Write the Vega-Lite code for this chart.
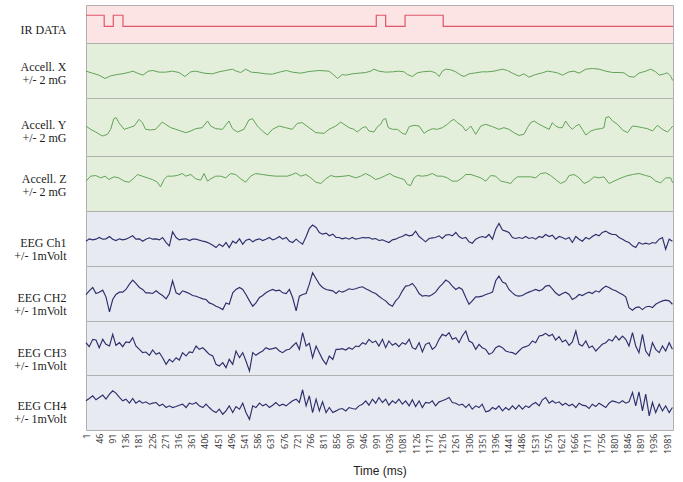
{
"$schema": "https://vega.github.io/schema/vega-lite/v6.json",
"padding": {"left": 13, "top": 4, "right": 0, "bottom": 0},
"background": "white",
"spacing": 0,
"bounds": "flush",
"config": {
  "view": {"stroke": "#b0b0b0", "strokeWidth": 1},
  "axis": {"titleFont": "Liberation Serif", "titleFontSize": 12, "titleFontWeight": "normal", "titleColor": "#222222", "titleLineHeight": 13}
},
"datasets": {
"ir": [{"t":1,"v":1},{"t":63,"v":0},{"t":94,"v":1},{"t":127,"v":0},{"t":990,"v":1},{"t":1022,"v":0},{"t":1088,"v":1},{"t":1218,"v":0},{"t":2001,"v":0}],
"ax": [{"t":1,"v":-2},{"t":23,"v":-8},{"t":45,"v":-14},{"t":66,"v":-24},{"t":85,"v":-16},{"t":108,"v":-12},{"t":131,"v":-9},{"t":153,"v":-4},{"t":161,"v":-2},{"t":176,"v":-8},{"t":195,"v":-14},{"t":213,"v":-2},{"t":229,"v":0},{"t":250,"v":-5},{"t":272,"v":-5},{"t":295,"v":-2},{"t":318,"v":-6},{"t":338,"v":-18},{"t":358,"v":-4},{"t":375,"v":-2},{"t":403,"v":-8},{"t":432,"v":-10},{"t":454,"v":-4},{"t":477,"v":0},{"t":500,"v":4},{"t":513,"v":-2},{"t":528,"v":-6},{"t":545,"v":4},{"t":564,"v":-5},{"t":591,"v":-7},{"t":613,"v":-10},{"t":636,"v":-11},{"t":664,"v":-4},{"t":684,"v":0},{"t":704,"v":-5},{"t":733,"v":-8},{"t":761,"v":-3},{"t":795,"v":0},{"t":829,"v":-2},{"t":846,"v":-14},{"t":858,"v":-24},{"t":874,"v":-12},{"t":886,"v":-14},{"t":908,"v":-10},{"t":931,"v":-8},{"t":954,"v":-6},{"t":971,"v":-2},{"t":982,"v":4},{"t":999,"v":-2},{"t":1022,"v":-5},{"t":1045,"v":-4},{"t":1067,"v":-2},{"t":1085,"v":-4},{"t":1096,"v":-12},{"t":1113,"v":-18},{"t":1130,"v":-7},{"t":1147,"v":-4},{"t":1175,"v":-2},{"t":1192,"v":-7},{"t":1204,"v":-18},{"t":1215,"v":-2},{"t":1227,"v":4},{"t":1244,"v":2},{"t":1261,"v":-4},{"t":1278,"v":-14},{"t":1289,"v":-18},{"t":1306,"v":-10},{"t":1329,"v":-7},{"t":1351,"v":-4},{"t":1369,"v":-4},{"t":1391,"v":-2},{"t":1420,"v":4},{"t":1437,"v":0},{"t":1454,"v":-8},{"t":1476,"v":-17},{"t":1493,"v":-10},{"t":1510,"v":-20},{"t":1533,"v":-12},{"t":1556,"v":-7},{"t":1573,"v":-2},{"t":1590,"v":-4},{"t":1607,"v":-7},{"t":1624,"v":-14},{"t":1647,"v":-4},{"t":1664,"v":-2},{"t":1681,"v":-8},{"t":1704,"v":4},{"t":1726,"v":6},{"t":1749,"v":4},{"t":1772,"v":-2},{"t":1795,"v":-6},{"t":1817,"v":-6},{"t":1834,"v":-7},{"t":1851,"v":-18},{"t":1868,"v":-20},{"t":1885,"v":-8},{"t":1908,"v":-2},{"t":1925,"v":4},{"t":1942,"v":-4},{"t":1954,"v":-14},{"t":1971,"v":-10},{"t":1982,"v":-7},{"t":1993,"v":-17},{"t":2000,"v":-30}],
"ay": [{"t":1,"v":3},{"t":17,"v":-7},{"t":34,"v":-15},{"t":57,"v":-27},{"t":74,"v":-22},{"t":85,"v":-7},{"t":96,"v":25},{"t":104,"v":28},{"t":113,"v":13},{"t":131,"v":-7},{"t":148,"v":-2},{"t":165,"v":3},{"t":182,"v":23},{"t":193,"v":13},{"t":204,"v":-7},{"t":221,"v":-9},{"t":238,"v":-7},{"t":261,"v":15},{"t":272,"v":8},{"t":290,"v":-2},{"t":307,"v":-7},{"t":324,"v":-12},{"t":341,"v":-17},{"t":358,"v":-12},{"t":375,"v":-5},{"t":397,"v":-2},{"t":415,"v":18},{"t":426,"v":3},{"t":443,"v":-5},{"t":466,"v":-7},{"t":488,"v":18},{"t":500,"v":-5},{"t":517,"v":-15},{"t":539,"v":-7},{"t":556,"v":21},{"t":568,"v":25},{"t":585,"v":3},{"t":602,"v":-12},{"t":619,"v":-24},{"t":636,"v":-7},{"t":659,"v":3},{"t":681,"v":-2},{"t":704,"v":-7},{"t":721,"v":11},{"t":738,"v":13},{"t":761,"v":-2},{"t":784,"v":-17},{"t":812,"v":-19},{"t":829,"v":-7},{"t":852,"v":3},{"t":869,"v":15},{"t":880,"v":8},{"t":897,"v":-2},{"t":914,"v":-7},{"t":925,"v":-15},{"t":943,"v":-2},{"t":954,"v":1},{"t":965,"v":-12},{"t":982,"v":-15},{"t":994,"v":1},{"t":1005,"v":8},{"t":1014,"v":23},{"t":1022,"v":25},{"t":1031,"v":-2},{"t":1045,"v":-7},{"t":1062,"v":-7},{"t":1079,"v":-19},{"t":1090,"v":-22},{"t":1102,"v":1},{"t":1119,"v":5},{"t":1136,"v":3},{"t":1153,"v":-19},{"t":1164,"v":-12},{"t":1181,"v":-5},{"t":1198,"v":-7},{"t":1215,"v":-2},{"t":1232,"v":8},{"t":1244,"v":18},{"t":1255,"v":23},{"t":1266,"v":13},{"t":1283,"v":3},{"t":1295,"v":-12},{"t":1312,"v":3},{"t":1329,"v":-22},{"t":1346,"v":3},{"t":1363,"v":8},{"t":1386,"v":1},{"t":1408,"v":-7},{"t":1425,"v":-2},{"t":1442,"v":-7},{"t":1459,"v":-17},{"t":1476,"v":-25},{"t":1493,"v":-22},{"t":1505,"v":-2},{"t":1516,"v":13},{"t":1528,"v":18},{"t":1539,"v":11},{"t":1556,"v":3},{"t":1579,"v":-7},{"t":1590,"v":13},{"t":1601,"v":3},{"t":1613,"v":-2},{"t":1624,"v":-2},{"t":1635,"v":18},{"t":1647,"v":3},{"t":1658,"v":-7},{"t":1670,"v":3},{"t":1681,"v":8},{"t":1692,"v":-7},{"t":1704,"v":-24},{"t":1721,"v":-12},{"t":1738,"v":-7},{"t":1755,"v":-5},{"t":1766,"v":-2},{"t":1772,"v":28},{"t":1783,"v":31},{"t":1795,"v":18},{"t":1812,"v":8},{"t":1829,"v":-9},{"t":1846,"v":-17},{"t":1863,"v":3},{"t":1880,"v":1},{"t":1897,"v":-2},{"t":1914,"v":-5},{"t":1931,"v":-12},{"t":1948,"v":5},{"t":1965,"v":-7},{"t":1982,"v":-15},{"t":1993,"v":-5},{"t":2000,"v":3}],
"az": [{"t":1,"v":7},{"t":17,"v":22},{"t":34,"v":24},{"t":51,"v":17},{"t":66,"v":22},{"t":79,"v":12},{"t":96,"v":20},{"t":113,"v":17},{"t":131,"v":7},{"t":148,"v":4},{"t":165,"v":17},{"t":176,"v":27},{"t":193,"v":22},{"t":210,"v":17},{"t":227,"v":12},{"t":244,"v":4},{"t":255,"v":-10},{"t":267,"v":12},{"t":278,"v":22},{"t":295,"v":22},{"t":312,"v":24},{"t":329,"v":30},{"t":341,"v":22},{"t":358,"v":27},{"t":375,"v":14},{"t":392,"v":10},{"t":403,"v":30},{"t":415,"v":7},{"t":426,"v":14},{"t":443,"v":22},{"t":460,"v":22},{"t":477,"v":17},{"t":494,"v":30},{"t":511,"v":27},{"t":528,"v":14},{"t":545,"v":4},{"t":562,"v":22},{"t":579,"v":30},{"t":602,"v":27},{"t":625,"v":24},{"t":647,"v":22},{"t":670,"v":22},{"t":687,"v":22},{"t":704,"v":27},{"t":716,"v":32},{"t":733,"v":22},{"t":750,"v":27},{"t":767,"v":17},{"t":784,"v":4},{"t":801,"v":0},{"t":818,"v":14},{"t":835,"v":24},{"t":852,"v":20},{"t":880,"v":22},{"t":897,"v":24},{"t":920,"v":17},{"t":937,"v":22},{"t":954,"v":30},{"t":971,"v":22},{"t":988,"v":12},{"t":1005,"v":17},{"t":1022,"v":24},{"t":1036,"v":30},{"t":1050,"v":22},{"t":1067,"v":17},{"t":1085,"v":12},{"t":1096,"v":-3},{"t":1107,"v":-6},{"t":1119,"v":17},{"t":1130,"v":24},{"t":1147,"v":22},{"t":1164,"v":24},{"t":1181,"v":30},{"t":1198,"v":22},{"t":1215,"v":22},{"t":1232,"v":17},{"t":1249,"v":7},{"t":1266,"v":7},{"t":1283,"v":17},{"t":1295,"v":27},{"t":1312,"v":27},{"t":1329,"v":22},{"t":1346,"v":17},{"t":1363,"v":7},{"t":1380,"v":24},{"t":1397,"v":22},{"t":1414,"v":7},{"t":1431,"v":4},{"t":1448,"v":0},{"t":1459,"v":12},{"t":1471,"v":20},{"t":1493,"v":20},{"t":1516,"v":20},{"t":1533,"v":17},{"t":1550,"v":30},{"t":1567,"v":32},{"t":1584,"v":24},{"t":1601,"v":12},{"t":1618,"v":0},{"t":1635,"v":7},{"t":1647,"v":24},{"t":1664,"v":27},{"t":1681,"v":17},{"t":1698,"v":0},{"t":1715,"v":7},{"t":1732,"v":20},{"t":1749,"v":17},{"t":1766,"v":20},{"t":1783,"v":0},{"t":1800,"v":7},{"t":1817,"v":14},{"t":1840,"v":22},{"t":1863,"v":27},{"t":1885,"v":30},{"t":1908,"v":24},{"t":1925,"v":20},{"t":1942,"v":7},{"t":1959,"v":2},{"t":1976,"v":17},{"t":1993,"v":17},{"t":2000,"v":2}],
"eeg": [
{"t":1,"a":-8,"b":-3,"c":16,"d":5},{"t":12,"a":-1,"b":8,"c":4,"d":12},{"t":24,"a":-4,"b":18,"c":26,"d":20},{"t":35,"a":-2,"b":0,"c":24,"d":8},{"t":46,"a":3,"b":4,"c":1,"d":15},{"t":58,"a":-2,"b":10,"c":26,"d":22},{"t":69,"a":-1,"b":-10,"c":11,"d":10},{"t":81,"a":6,"b":-55,"c":6,"d":25},{"t":92,"a":-2,"b":-18,"c":41,"d":35},{"t":103,"a":-6,"b":-3,"c":8,"d":28},{"t":115,"a":-1,"b":4,"c":16,"d":15},{"t":126,"a":-4,"b":4,"c":4,"d":5},{"t":137,"a":-2,"b":12,"c":18,"d":10},{"t":149,"a":3,"b":28,"c":16,"d":-2},{"t":160,"a":8,"b":40,"c":31,"d":12},{"t":171,"a":-2,"b":30,"c":6,"d":-2},{"t":183,"a":-1,"b":18,"c":-4,"d":5},{"t":194,"a":-8,"b":12,"c":-14,"d":-2},{"t":205,"a":-2,"b":2,"c":-12,"d":2},{"t":217,"a":2,"b":2,"c":-22,"d":-5},{"t":228,"a":-2,"b":0,"c":-6,"d":-2},{"t":240,"a":-1,"b":8,"c":-19,"d":0},{"t":251,"a":-4,"b":0,"c":-14,"d":-10},{"t":262,"a":3,"b":-6,"c":-29,"d":-5},{"t":274,"a":-12,"b":-16,"c":-49,"d":-15},{"t":285,"a":-22,"b":0,"c":-34,"d":-10},{"t":296,"a":20,"b":38,"c":-42,"d":-15},{"t":308,"a":3,"b":2,"c":-29,"d":-12},{"t":319,"a":-4,"b":-3,"c":-36,"d":-8},{"t":330,"a":-2,"b":8,"c":-14,"d":-5},{"t":342,"a":-1,"b":4,"c":-24,"d":-15},{"t":353,"a":-6,"b":0,"c":-12,"d":-2},{"t":364,"a":-2,"b":-6,"c":-14,"d":-5},{"t":376,"a":-2,"b":-8,"c":6,"d":0},{"t":387,"a":-5,"b":-12,"c":-4,"d":-10},{"t":399,"a":-8,"b":-16,"c":1,"d":-15},{"t":410,"a":-10,"b":-18,"c":-9,"d":-5},{"t":421,"a":-14,"b":-28,"c":-19,"d":-15},{"t":433,"a":-20,"b":-32,"c":-24,"d":-25},{"t":444,"a":-27,"b":-38,"c":-49,"d":-30},{"t":455,"a":-17,"b":-42,"c":-54,"d":-20},{"t":467,"a":-24,"b":-48,"c":-44,"d":-35},{"t":478,"a":-12,"b":-28,"c":-59,"d":-25},{"t":489,"a":-27,"b":-32,"c":-34,"d":-10},{"t":501,"a":-8,"b":2,"c":-49,"d":-30},{"t":512,"a":-14,"b":12,"c":-9,"d":-12},{"t":524,"a":-1,"b":18,"c":-29,"d":-20},{"t":535,"a":-17,"b":12,"c":-14,"d":-2},{"t":546,"a":-5,"b":-3,"c":-39,"d":-30},{"t":558,"a":-2,"b":-22,"c":-69,"d":-50},{"t":569,"a":-10,"b":-38,"c":-14,"d":-10},{"t":580,"a":-4,"b":-28,"c":-22,"d":-15},{"t":592,"a":-1,"b":-12,"c":-14,"d":-2},{"t":603,"a":-6,"b":-6,"c":-9,"d":-10},{"t":614,"a":-2,"b":2,"c":1,"d":-5},{"t":626,"a":3,"b":8,"c":-4,"d":-15},{"t":637,"a":-4,"b":12,"c":-2,"d":-8},{"t":648,"a":-1,"b":8,"c":1,"d":0},{"t":660,"a":6,"b":10,"c":-9,"d":-10},{"t":671,"a":-2,"b":2,"c":-14,"d":-5},{"t":683,"a":3,"b":0,"c":-6,"d":-10},{"t":694,"a":-8,"b":12,"c":-4,"d":-2},{"t":705,"a":-12,"b":-12,"c":6,"d":5},{"t":717,"a":-2,"b":-52,"c":16,"d":10},{"t":728,"a":-10,"b":-8,"c":-4,"d":0},{"t":739,"a":-17,"b":-3,"c":46,"d":38},{"t":751,"a":6,"b":0,"c":6,"d":-10},{"t":762,"a":30,"b":28,"c":14,"d":20},{"t":773,"a":40,"b":62,"c":-29,"d":-30},{"t":785,"a":33,"b":44,"c":6,"d":10},{"t":796,"a":18,"b":28,"c":-14,"d":-25},{"t":807,"a":13,"b":18,"c":-34,"d":2},{"t":819,"a":16,"b":12,"c":-49,"d":-30},{"t":830,"a":8,"b":10,"c":-24,"d":-15},{"t":842,"a":13,"b":8,"c":-34,"d":-30},{"t":853,"a":3,"b":0,"c":-4,"d":-25},
{"t":863,"a":3,"b":8,"c":-4,"d":-20},{"t":874,"a":-1,"b":4,"c":-2,"d":-18},{"t":886,"a":2,"b":8,"c":-6,"d":-25},{"t":897,"a":-2,"b":14,"c":1,"d":-15},{"t":908,"a":3,"b":12,"c":-4,"d":-18},{"t":920,"a":-2,"b":14,"c":6,"d":-20},{"t":931,"a":0,"b":18,"c":4,"d":-10},{"t":943,"a":3,"b":20,"c":16,"d":-5},{"t":954,"a":2,"b":14,"c":11,"d":5},{"t":965,"a":3,"b":10,"c":26,"d":-8},{"t":977,"a":-2,"b":4,"c":16,"d":10},{"t":988,"a":0,"b":0,"c":21,"d":-2},{"t":999,"a":-6,"b":-8,"c":6,"d":15},{"t":1011,"a":-4,"b":-16,"c":26,"d":0},{"t":1022,"a":-8,"b":-22,"c":1,"d":10},{"t":1033,"a":-12,"b":-32,"c":21,"d":-8},{"t":1045,"a":-4,"b":-38,"c":8,"d":5},{"t":1056,"a":-2,"b":-22,"c":14,"d":-2},{"t":1067,"a":3,"b":-12,"c":4,"d":10},{"t":1079,"a":6,"b":8,"c":16,"d":-5},{"t":1090,"a":12,"b":22,"c":11,"d":5},{"t":1102,"a":8,"b":24,"c":26,"d":-10},{"t":1113,"a":10,"b":30,"c":1,"d":8},{"t":1124,"a":22,"b":18,"c":-4,"d":-12},{"t":1136,"a":6,"b":0,"c":16,"d":5},{"t":1147,"a":-2,"b":-8,"c":-12,"d":-15},{"t":1158,"a":-10,"b":-6,"c":11,"d":0},{"t":1170,"a":0,"b":-8,"c":16,"d":-2},{"t":1181,"a":2,"b":-3,"c":-4,"d":5},{"t":1192,"a":3,"b":4,"c":4,"d":-10},{"t":1204,"a":8,"b":18,"c":26,"d":2},{"t":1215,"a":0,"b":28,"c":41,"d":5},{"t":1227,"a":10,"b":40,"c":36,"d":10},{"t":1238,"a":12,"b":34,"c":46,"d":15},{"t":1249,"a":8,"b":22,"c":26,"d":0},{"t":1261,"a":18,"b":12,"c":31,"d":-2},{"t":1272,"a":6,"b":18,"c":16,"d":-8},{"t":1283,"a":0,"b":12,"c":36,"d":-5},{"t":1295,"a":3,"b":-12,"c":51,"d":-15},{"t":1306,"a":-10,"b":-32,"c":21,"d":-5},{"t":1317,"a":-14,"b":-22,"c":16,"d":-20},{"t":1329,"a":-2,"b":-10,"c":-4,"d":-10},{"t":1340,"a":3,"b":-10,"c":11,"d":-15},{"t":1351,"a":6,"b":-8,"c":1,"d":-5},{"t":1363,"a":3,"b":-3,"c":-4,"d":-28},{"t":1374,"a":12,"b":0,"c":-19,"d":-25},{"t":1386,"a":-2,"b":4,"c":-14,"d":-15},{"t":1397,"a":28,"b":38,"c":1,"d":-20},{"t":1408,"a":45,"b":52,"c":6,"d":-10},{"t":1420,"a":25,"b":34,"c":1,"d":-25},{"t":1431,"a":22,"b":30,"c":-9,"d":-15},{"t":1442,"a":18,"b":12,"c":-12,"d":-22},{"t":1454,"a":3,"b":2,"c":-14,"d":-10},{"t":1465,"a":0,"b":-6,"c":-19,"d":-20},{"t":1476,"a":3,"b":-8,"c":-9,"d":-8},{"t":1488,"a":0,"b":-6,"c":1,"d":-20},{"t":1499,"a":6,"b":0,"c":4,"d":-10},{"t":1510,"a":0,"b":4,"c":8,"d":-15},{"t":1522,"a":3,"b":8,"c":21,"d":-5},{"t":1533,"a":-2,"b":12,"c":16,"d":0},{"t":1545,"a":6,"b":8,"c":36,"d":-10},{"t":1556,"a":3,"b":12,"c":38,"d":8},{"t":1567,"a":12,"b":22,"c":44,"d":15},{"t":1579,"a":6,"b":24,"c":36,"d":-2},{"t":1590,"a":10,"b":14,"c":41,"d":5},{"t":1601,"a":-2,"b":2,"c":24,"d":-2},{"t":1613,"a":6,"b":-6,"c":34,"d":2},{"t":1624,"a":3,"b":0,"c":18,"d":-8},{"t":1635,"a":-2,"b":4,"c":24,"d":-2},{"t":1647,"a":3,"b":-3,"c":8,"d":-10},{"t":1658,"a":-12,"b":-18,"c":18,"d":-5},{"t":1670,"a":6,"b":-12,"c":51,"d":-15},{"t":1681,"a":-2,"b":-3,"c":11,"d":-2},{"t":1692,"a":-8,"b":-6,"c":6,"d":-8},{"t":1704,"a":3,"b":0,"c":21,"d":-10},{"t":1715,"a":-2,"b":4,"c":1,"d":-18},{"t":1726,"a":6,"b":0,"c":6,"d":-5},{"t":1738,"a":12,"b":8,"c":-9,"d":-12},{"t":1749,"a":8,"b":4,"c":1,"d":-2},{"t":1760,"a":18,"b":14,"c":11,"d":-8},{"t":1772,"a":22,"b":22,"c":16,"d":-15},{"t":1783,"a":16,"b":18,"c":26,"d":-2},{"t":1794,"a":12,"b":12,"c":21,"d":5},{"t":1806,"a":12,"b":8,"c":36,"d":2},{"t":1817,"a":3,"b":2,"c":24,"d":-2},{"t":1829,"a":-2,"b":-3,"c":36,"d":5},{"t":1840,"a":-8,"b":-10,"c":26,"d":-2},{"t":1851,"a":-12,"b":-42,"c":6,"d":2},{"t":1863,"a":-22,"b":-50,"c":46,"d":30},{"t":1874,"a":-27,"b":-42,"c":6,"d":-10},{"t":1885,"a":-12,"b":-40,"c":-14,"d":32},{"t":1897,"a":-17,"b":-48,"c":41,"d":-25},{"t":1908,"a":-14,"b":-40,"c":-9,"d":25},{"t":1920,"a":-17,"b":-38,"c":-24,"d":-40},{"t":1931,"a":-12,"b":-42,"c":16,"d":0},{"t":1942,"a":-14,"b":-32,"c":-4,"d":-30},{"t":1954,"a":-2,"b":-26,"c":-14,"d":-5},{"t":1965,"a":3,"b":-22,"c":6,"d":-25},{"t":1976,"a":-32,"b":-20,"c":-9,"d":-10},{"t":1988,"a":-2,"b":-22,"c":16,"d":-30},{"t":1999,"a":-8,"b":-32,"c":-4,"d":-15}
]
},
"vconcat": [
{
  "width": 587, "height": 38,
  "view": {"fill": "#fce3e4"},
  "data": {"name": "ir"},
  "mark": {"type": "line", "interpolate": "step-after", "color": "#e0566a", "strokeWidth": 1.2},
  "encoding": {
    "x": {"field": "t", "type": "quantitative", "scale": {"domain": [1, 2001], "nice": false, "zero": false}, "axis": null},
    "y": {"field": "v", "type": "quantitative", "scale": {"domain": [-1.51, 1.93], "nice": false, "zero": false},
          "axis": {"title": "IR DATA", "titleAngle": 0, "titleAlign": "right", "titleBaseline": "alphabetic", "titleX": -20, "titleY": 28, "labels": false, "ticks": false, "domain": false, "grid": false}}
  }
},
{
  "width": 587, "height": 55,
  "view": {"fill": "#e3efdb"},
  "data": {"name": "ax"},
  "mark": {"type": "line", "color": "#62a358", "strokeWidth": 1},
  "encoding": {
    "x": {"field": "t", "type": "quantitative", "scale": {"domain": [1, 2001], "nice": false, "zero": false}, "axis": null},
    "y": {"field": "v", "type": "quantitative", "scale": {"domain": [-82.5, 82.5], "nice": false, "zero": false},
          "axis": {"title": ["Accell. X", "+/- 2 mG"], "titleAngle": 0, "titleAlign": "right", "titleBaseline": "alphabetic", "titleX": -20, "titleY": 27, "labels": false, "ticks": false, "domain": false, "grid": false}}
  }
},
{
  "width": 587, "height": 58,
  "view": {"fill": "#e3efdb"},
  "data": {"name": "ay"},
  "mark": {"type": "line", "color": "#62a358", "strokeWidth": 1},
  "encoding": {
    "x": {"field": "t", "type": "quantitative", "scale": {"domain": [1, 2001], "nice": false, "zero": false}, "axis": null},
    "y": {"field": "v", "type": "quantitative", "scale": {"domain": [-87, 87], "nice": false, "zero": false},
          "axis": {"title": ["Accell. Y", "+/- 2 mG"], "titleAngle": 0, "titleAlign": "right", "titleBaseline": "alphabetic", "titleX": -20, "titleY": 30, "labels": false, "ticks": false, "domain": false, "grid": false}}
  }
},
{
  "width": 587, "height": 55,
  "view": {"fill": "#e3efdb"},
  "data": {"name": "az"},
  "mark": {"type": "line", "color": "#62a358", "strokeWidth": 1},
  "encoding": {
    "x": {"field": "t", "type": "quantitative", "scale": {"domain": [1, 2001], "nice": false, "zero": false}, "axis": null},
    "y": {"field": "v", "type": "quantitative", "scale": {"domain": [-82.5, 82.5], "nice": false, "zero": false},
          "axis": {"title": ["Accell. Z", "+/- 2 mG"], "titleAngle": 0, "titleAlign": "right", "titleBaseline": "alphabetic", "titleX": -20, "titleY": 26, "labels": false, "ticks": false, "domain": false, "grid": false}}
  }
},
{
  "width": 587, "height": 55,
  "view": {"fill": "#e8eaf2"},
  "data": {"name": "eeg"},
  "mark": {"type": "line", "color": "#2c2f6b", "strokeWidth": 1.15},
  "encoding": {
    "x": {"field": "t", "type": "quantitative", "scale": {"domain": [1, 2001], "nice": false, "zero": false}, "axis": null},
    "y": {"field": "a", "type": "quantitative", "scale": {"domain": [-82, 82], "nice": false, "zero": false},
          "axis": {"title": ["EEG Ch1", "+/- 1mVolt"], "titleAngle": 0, "titleAlign": "right", "titleBaseline": "alphabetic", "titleX": -20, "titleY": 35, "labels": false, "ticks": false, "domain": false, "grid": false}}
  }
},
{
  "width": 587, "height": 55,
  "view": {"fill": "#e8eaf2"},
  "data": {"name": "eeg"},
  "mark": {"type": "line", "color": "#2c2f6b", "strokeWidth": 1.15},
  "encoding": {
    "x": {"field": "t", "type": "quantitative", "scale": {"domain": [1, 2001], "nice": false, "zero": false}, "axis": null},
    "y": {"field": "b", "type": "quantitative", "scale": {"domain": [-82, 82], "nice": false, "zero": false},
          "axis": {"title": ["EEG CH2", "+/- 1mVolt"], "titleAngle": 0, "titleAlign": "right", "titleBaseline": "alphabetic", "titleX": -20, "titleY": 35, "labels": false, "ticks": false, "domain": false, "grid": false}}
  }
},
{
  "width": 587, "height": 54,
  "view": {"fill": "#e8eaf2"},
  "data": {"name": "eeg"},
  "mark": {"type": "line", "color": "#2c2f6b", "strokeWidth": 1.15},
  "encoding": {
    "x": {"field": "t", "type": "quantitative", "scale": {"domain": [1, 2001], "nice": false, "zero": false}, "axis": null},
    "y": {"field": "c", "type": "quantitative", "scale": {"domain": [-81, 81], "nice": false, "zero": false},
          "axis": {"title": ["EEG CH3", "+/- 1mVolt"], "titleAngle": 0, "titleAlign": "right", "titleBaseline": "alphabetic", "titleX": -20, "titleY": 35, "labels": false, "ticks": false, "domain": false, "grid": false}}
  }
},
{
  "width": 587, "height": 55,
  "view": {"fill": "#e8eaf2"},
  "data": {"name": "eeg"},
  "mark": {"type": "line", "color": "#2c2f6b", "strokeWidth": 1.15},
  "encoding": {
    "x": {"field": "t", "type": "quantitative", "scale": {"domain": [1, 2001], "nice": false, "zero": false},
          "axis": {"values": [1,46,91,136,181,226,271,316,361,406,451,496,541,586,631,676,721,766,811,856,901,946,991,1036,1081,1126,1171,1216,1261,1306,1351,1396,1441,1486,1531,1576,1621,1666,1711,1756,1801,1846,1891,1936,1981],
                   "format": "d", "labelAngle": -90, "labelAlign": "right", "labelBaseline": "middle", "labelFont": "Open Sans", "labelFontSize": 9, "labelColor": "#333333", "labelPadding": 3, "labelOverlap": false, "labelFlush": false,
                   "ticks": false, "domain": false, "grid": false,
                   "title": "Time (ms)", "titleFont": "Liberation Sans", "titleFontSize": 12, "titleFontWeight": "normal", "titleColor": "#222222", "titlePadding": 12}},
    "y": {"field": "d", "type": "quantitative", "scale": {"domain": [-82, 82], "nice": false, "zero": false},
          "axis": {"title": ["EEG CH4", "+/- 1mVolt"], "titleAngle": 0, "titleAlign": "right", "titleBaseline": "alphabetic", "titleX": -20, "titleY": 34, "labels": false, "ticks": false, "domain": false, "grid": false}}
  }
}
]
}
